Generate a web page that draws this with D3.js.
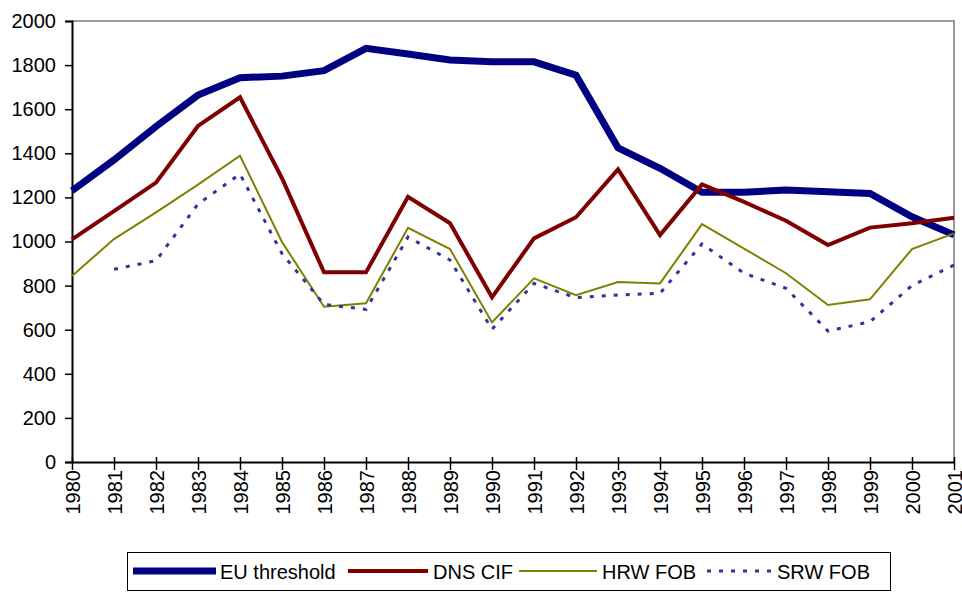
<!DOCTYPE html>
<html>
<head>
<meta charset="utf-8">
<script src="https://cdn.jsdelivr.net/npm/d3@7"></script>
<style>
  body { margin: 0; background: #fff; }
  svg text { font-family: Arial, "Liberation Sans", sans-serif; font-size: 20px; fill: #000; }
</style>
</head>
<body>
<svg id="chart" width="962" height="592"></svg>
<script>
let years = d3.range(1980, 2002)
let yTicks = [0, 200, 400, 600, 800, 1000, 1200, 1400, 1600, 1800, 2000]

let euThreshold = [1230, 1370, 1522, 1664, 1743, 1750, 1775, 1876, 1850, 1823, 1815, 1815, 1754, 1425, 1332, 1223, 1223, 1234, 1226, 1218, 1112, 1030]
let dnsCif = [1010, 1138, 1267, 1524, 1654, 1287, 860, 860, 1203, 1083, 747, 1014, 1110, 1327, 1029, 1259, 1180, 1094, 984, 1063, 1083, 1108]
let hrwFob = [844, 1011, 1132, 1258, 1389, 998, 704, 720, 1062, 966, 633, 833, 757, 816, 810, 1079, 968, 856, 712, 738, 966, 1037]
let srwFob = [null, 874, 913, 1170, 1306, 945, 715, 692, 1020, 916, 602, 810, 745, 757, 765, 989, 856, 788, 594, 636, 800, 893]

let series = [
  {name: 'EU threshold', values: euThreshold, colour: '#000080', width: 7, dash: null},
  {name: 'DNS CIF', values: dnsCif, colour: '#800000', width: 4, dash: null},
  {name: 'HRW FOB', values: hrwFob, colour: '#808000', width: 2, dash: null},
  {name: 'SRW FOB', values: srwFob, colour: '#333399', width: 3, dash: '4,8'}
]

function drawChart(){
  let svg = d3.select('#chart')
  let left = 72, right = 954, top = 21, bottom = 462

  let x = d3.scalePoint()
    .domain(years)
    .range([left, right])

  let y = d3.scaleLinear()
    .domain([0, 2000])
    .range([bottom, top])

  // grey frame on top and right
  svg.append('path')
    .attr('d', `M${left},${top}H${right}V${bottom}`)
    .attr('fill', 'none')
    .attr('stroke', '#999')
    .attr('stroke-width', 2)

  // y axis
  let yAxis = svg.append('g')
    .attr('transform', 'translate(' + left + ',0)')
    .call(d3.axisLeft(y).tickValues(yTicks).tickFormat(d3.format('d')).tickSize(7).tickPadding(9))
  yAxis.select('.domain').attr('stroke', '#000').attr('stroke-width', 2)
  yAxis.selectAll('.tick line').attr('stroke', '#000').attr('stroke-width', 1.5)
  yAxis.selectAll('text').style('font-size', '20px').attr('fill', '#000')

  // x axis, ticks crossing the axis line
  let xAxis = svg.append('g')
    .attr('transform', 'translate(0,' + bottom + ')')
    .call(d3.axisBottom(x).tickSize(8).tickSizeOuter(0))
  xAxis.select('.domain').attr('stroke', '#000').attr('stroke-width', 2)
  xAxis.selectAll('.tick line').attr('y1', -5).attr('stroke', '#000').attr('stroke-width', 1.5)
  xAxis.selectAll('text')
    .style('font-size', '20px')
    .attr('fill', '#000')
    .attr('transform', 'rotate(-90)')
    .attr('text-anchor', 'end')
    .attr('x', -8)
    .attr('y', 0)
    .attr('dy', '0.35em')

  // lines
  series.forEach(function(s){
    let line = d3.line()
      .defined(function(d){ return d != null })
      .x(function(d, j){ return x(years[j]) })
      .y(function(d){ return y(d) })
    svg.append('path')
      .datum(s.values)
      .attr('fill', 'none')
      .attr('stroke', s.colour)
      .attr('stroke-width', s.width)
      .attr('stroke-linejoin', 'miter')
      .attr('stroke-dasharray', s.dash)
      .attr('d', line)
  })

  // legend
  let legend = svg.append('g')
  legend.append('rect')
    .attr('x', 127.5).attr('y', 552.5)
    .attr('width', 763).attr('height', 38)
    .attr('fill', '#fff')
    .attr('stroke', '#000')
    .attr('stroke-width', 1)

  let legendItems = [
    {x1: 133, x2: 216, tx: 220},
    {x1: 348, x2: 428, tx: 433},
    {x1: 519, x2: 597, tx: 602},
    {x1: 707, x2: 773, tx: 777}
  ]
  series.forEach(function(s, i){
    let it = legendItems[i]
    legend.append('line')
      .attr('x1', it.x1).attr('x2', it.x2)
      .attr('y1', 571).attr('y2', 571)
      .attr('stroke', s.colour)
      .attr('stroke-width', s.width)
      .attr('stroke-dasharray', s.dash)
    legend.append('text')
      .attr('x', it.tx).attr('y', 572)
      .attr('dy', '0.35em')
      .text(s.name)
  })
}

drawChart()
</script>
</body>
</html>
